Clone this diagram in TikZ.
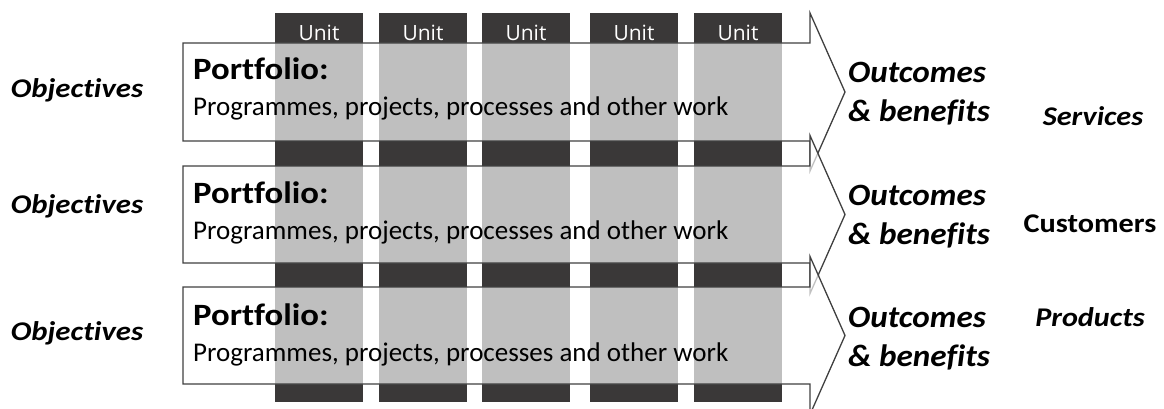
\documentclass[tikz,border=0pt]{standalone}
\usepackage{fontspec}
\setmainfont{Carlito}[Ligatures=NoCommon]
\newfontfamily\unitfont{Open Sans}
\newfontfamily\portfont{Carlito}[FakeStretch=1.12,Ligatures=NoCommon]
\newfontfamily\objfont{Carlito}[FakeStretch=1.14,Ligatures=NoCommon]
\newfontfamily\outfont{Carlito}[FakeStretch=1.07,Ligatures=NoCommon]
\newfontfamily\sidefont{Carlito}[FakeStretch=1.12,Ligatures=NoCommon]
\definecolor{darkbar}{HTML}{3A3838}
\definecolor{edge}{HTML}{404040}
\begin{document}
\begin{tikzpicture}[x=1pt,y=-1pt,
  colbar/.style={fill=darkbar,draw=none},
  arrowbox/.style={draw=edge,line width=1.3pt,fill=white,fill opacity=0.68,line join=miter},
  unitlbl/.style={text=white,font=\unitfont\fontsize{21}{21}\selectfont,anchor=base,inner sep=0pt},
  portf/.style={font=\portfont\bfseries\fontsize{31}{31}\selectfont,anchor=base west,inner sep=0pt},
  progs/.style={font=\fontsize{27}{27}\selectfont,anchor=base west,inner sep=0pt},
  objl/.style={font=\objfont\bfseries\itshape\fontsize{27}{27}\selectfont,anchor=base,inner sep=0pt},
  outc/.style={font=\outfont\bfseries\itshape\fontsize{31}{31}\selectfont,anchor=base west,inner sep=0pt},
  sidelbl/.style={font=\sidefont\bfseries\itshape\fontsize{27}{27}\selectfont,anchor=base,inner sep=0pt},
  sideup/.style={font=\sidefont\bfseries\fontsize{27}{27}\selectfont,anchor=base,inner sep=0pt}]
\useasboundingbox (0,0) rectangle (1164,409);
% unit columns
\foreach \x [count=\i] in {275,379,482,590,694}{
  \fill[colbar] (\x,13) rectangle (\x+88,402);
}
% arrows
\draw[arrowbox] (183,43) -- (810,43) -- (810,13) -- (845,92) -- (810,171) -- (810,141) -- (183,141) -- cycle;
\draw[arrowbox] (183,166) -- (810,166) -- (810,135.5) -- (845,214.5) -- (810,293.5) -- (810,263) -- (183,263) -- cycle;
\draw[arrowbox] (183,287) -- (810,287) -- (810,256.5) -- (845,335.5) -- (810,414.5) -- (810,384) -- (183,384) -- cycle;
% unit labels
\node[unitlbl] (u1) at (319,40.5) {Unit};
\node[unitlbl] (u2) at (423,40.5) {Unit};
\node[unitlbl] (u3) at (526,40.5) {Unit};
\node[unitlbl] (u4) at (634,40.5) {Unit};
\node[unitlbl] (u5) at (738,40.5) {Unit};
% portfolio texts
\node[portf] (p1) at (193,80) {Portfolio:};
\node[progs] (g1) at (193,116) {Programmes, projects, processes and other work};
\node[portf] (p2) at (193,203) {Portfolio:};
\node[progs] (g2) at (193,239) {Programmes, projects, processes and other work};
\node[portf] (p3) at (193,325) {Portfolio:};
\node[progs] (g3) at (193,361) {Programmes, projects, processes and other work};
% objectives
\node[objl] (o1) at (77,98) {Objectives};
\node[objl] (o2) at (77,213) {Objectives};
\node[objl] (o3) at (77,340) {Objectives};
% outcomes
\node[outc] (oc1) at (848,83) {Outcomes};
\node[outc] (b1) at (848,122) {\& benefits};
\node[outc] (oc2) at (848,205) {Outcomes};
\node[outc] (b2) at (848,244) {\& benefits};
\node[outc] (oc3) at (848,327) {Outcomes};
\node[outc] (b3) at (848,366) {\& benefits};
% side labels
\node[sidelbl] (s1) at (1093,125) {Services};
\node[sideup] (s2) at (1090,232) {Customers};
\node[sidelbl] (s3) at (1090,326) {Products};
\end{tikzpicture}
\end{document}
